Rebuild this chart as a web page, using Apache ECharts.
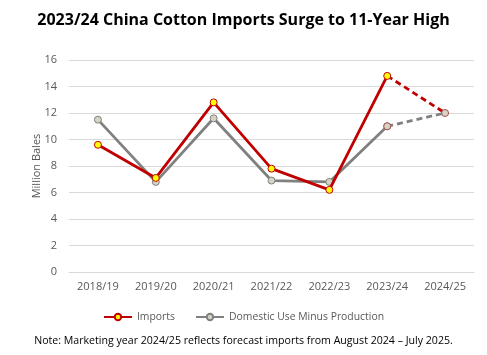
<!DOCTYPE html>
<html><head><meta charset="utf-8">
<script src="https://cdn.jsdelivr.net/npm/echarts@6/dist/echarts.min.js"></script>
<style>html,body{margin:0;padding:0;background:#fff}#c{width:487px;height:355px}</style>
</head><body><div id="c"></div>
<script>
const categories = ['2018/19','2019/20','2020/21','2021/22','2022/23','2023/24','2024/25'];
const imports = [9.6, 7.1, 12.8, 7.8, 6.2, 14.8, 12.0];
const domestic = [11.5, 6.8, 11.6, 6.9, 6.8, 11.0, 12.0];
const yTicks = [0, 2, 4, 6, 8, 10, 12, 14, 16];
const forecastFrom = 5; // index where forecast (dashed) segment starts

const solid = arr => arr.map((v, i) => i <= forecastFrom ? v : null);
const dashed = arr => arr.map((v, i) => i >= forecastFrom ? v : null);

const RED = '#C00000', GRAY = '#808080';
const impMarker = {color: '#FFFF00', borderColor: RED, borderWidth: 1};
const domMarker = {color: '#D6D3C4', borderColor: GRAY, borderWidth: 1};

const chart = echarts.init(document.getElementById('c'), null, {renderer: 'canvas'});
chart.setOption({
  animation: false,
  title: {
    text: '2023/24 China Cotton Imports Surge to 11-Year High',
    left: 'center', top: 7,
    textStyle: {fontFamily: 'Open Sans', fontWeight: 'bold', fontSize: 16, color: '#000'}
  },
  graphic: [{
    type: 'text', left: 'center', top: 335,
    style: {text: 'Note: Marketing year 2024/25 reflects forecast imports from August 2024 \u2013 July 2025.',
      font: '10.6px "Open Sans"', fill: '#000'}
  }],
  legend: {
    data: ['Imports', 'Domestic Use Minus Production'],
    top: 307, left: 'center', itemGap: 20, itemWidth: 28, itemHeight: 8,
    textStyle: {color: '#595959', fontFamily: 'Open Sans', fontSize: 10.4}
  },
  grid: {left: 69, right: 13, top: 60, bottom: 83},
  xAxis: {
    type: 'category', data: categories, boundaryGap: true,
    axisLine: {lineStyle: {color: '#D9D9D9'}}, axisTick: {show: false},
    axisLabel: {color: '#595959', fontFamily: 'Open Sans', fontSize: 11, margin: 9}
  },
  yAxis: {
    type: 'value', min: yTicks[0], max: yTicks[yTicks.length - 1], interval: 2,
    name: 'Million Bales', nameLocation: 'middle', nameGap: 27, nameRotate: 90,
    nameMoveOverlap: false,
    nameTextStyle: {color: '#595959', fontFamily: 'Open Sans', fontSize: 11},
    axisLine: {show: false}, axisTick: {show: false},
    axisLabel: {color: '#595959', fontFamily: 'Open Sans', fontSize: 11, margin: 12},
    splitLine: {lineStyle: {color: '#D9D9D9', width: 1}}
  },
  series: [
    {name: 'Imports', type: 'line', data: solid(imports), symbol: 'circle', symbolSize: 7,
     lineStyle: {color: RED, width: 2.8}, itemStyle: impMarker, z: 3},
    {name: 'Imports forecast', type: 'line', data: dashed(imports), symbol: 'none',
     lineStyle: {color: RED, width: 2.8, type: [6, 4]}, itemStyle: impMarker, z: 2},
    {name: 'Domestic Use Minus Production', type: 'line', data: solid(domestic), symbol: 'circle', symbolSize: 7,
     lineStyle: {color: GRAY, width: 2.8}, itemStyle: domMarker, z: 2},
    {name: 'Domestic forecast', type: 'line', data: dashed(domestic), symbol: 'circle', symbolSize: 7,
     showAllSymbol: true,
     lineStyle: {color: GRAY, width: 2.8, type: [6, 4]},
     itemStyle: {color: '#D6D3C4', borderColor: '#A05050', borderWidth: 1}, z: 4}
  ]
});
</script></body></html>
